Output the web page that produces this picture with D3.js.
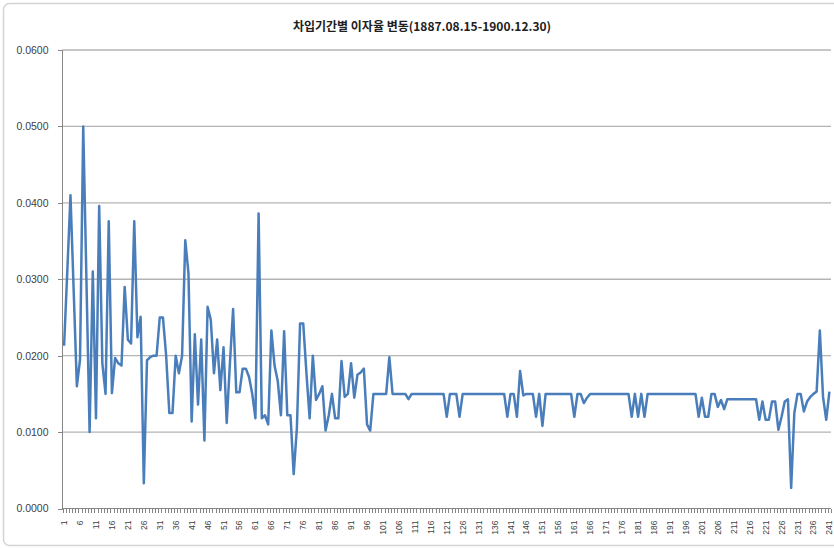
<!DOCTYPE html>
<meta charset="utf-8">
<style>

body {
  margin: 0;
  background: #fff;
}

.grid line {
  stroke: #b4b4b4;
  stroke-width: 1.3px;
}

.axis line, .axis path {
  stroke: #868686;
  stroke-width: 1px;
  shape-rendering: crispEdges;
}

.axis text {
  fill: #404040;
  font-family: "Liberation Sans", Arial, sans-serif;
}

.series {
  fill: none;
  stroke: #4a7ebb;
  stroke-width: 2.5px;
  stroke-linejoin: round;
}

</style>
<body>
<svg width="834" height="548"></svg>
<script src="https://d3js.org/d3.v7.min.js"></script>
<script>

var title = "차입기간별 이자율 변동(1887.08.15-1900.12.30)";

// interest rate for each period 1..241
var rates = [
  0.0213, 0.031, 0.041, 0.0286, 0.016, 0.0195, 0.050, 0.030, 0.010, 0.031,
  0.0118, 0.0396, 0.019, 0.015, 0.0376, 0.0151, 0.0197, 0.019, 0.0187, 0.029,
  0.0221, 0.0216, 0.0376, 0.0224, 0.0251, 0.0033, 0.0194, 0.0198, 0.020, 0.020,
  0.025, 0.025, 0.020, 0.0125, 0.0125, 0.020, 0.0177, 0.020, 0.0351, 0.0308,
  0.0114, 0.0228, 0.0136, 0.0221, 0.0089, 0.0264, 0.0247, 0.0177, 0.0221, 0.0155,
  0.0211, 0.0112, 0.019, 0.0261, 0.0152, 0.0152, 0.0183, 0.0183, 0.0172, 0.015,
  0.0118, 0.0386, 0.0118, 0.0122, 0.011, 0.0233, 0.0187, 0.0167, 0.0122, 0.0232,
  0.0122, 0.0122, 0.0045, 0.0105, 0.0242, 0.0242, 0.0177, 0.0118, 0.020, 0.0142,
  0.015, 0.016, 0.0102, 0.0122, 0.015, 0.0118, 0.0118, 0.0193, 0.0146, 0.015,
  0.019, 0.0145, 0.0175, 0.0178, 0.0183, 0.011, 0.0102, 0.015, 0.015, 0.015,
  0.015, 0.015, 0.0198, 0.015, 0.015, 0.015, 0.015, 0.015, 0.0143, 0.015,
  0.015, 0.015, 0.015, 0.015, 0.015, 0.015, 0.015, 0.015, 0.015, 0.015,
  0.012, 0.015, 0.015, 0.015, 0.012, 0.015, 0.015, 0.015, 0.015, 0.015,
  0.015, 0.015, 0.015, 0.015, 0.015, 0.015, 0.015, 0.015, 0.015, 0.012,
  0.015, 0.015, 0.012, 0.018, 0.0148, 0.015, 0.015, 0.015, 0.012, 0.015,
  0.0108, 0.015, 0.015, 0.015, 0.015, 0.015, 0.015, 0.015, 0.015, 0.015,
  0.012, 0.015, 0.015, 0.0138, 0.0145, 0.015, 0.015, 0.015, 0.015, 0.015,
  0.015, 0.015, 0.015, 0.015, 0.015, 0.015, 0.015, 0.015, 0.012, 0.015,
  0.012, 0.015, 0.012, 0.015, 0.015, 0.015, 0.015, 0.015, 0.015, 0.015,
  0.015, 0.015, 0.015, 0.015, 0.015, 0.015, 0.015, 0.015, 0.015, 0.012,
  0.0145, 0.012, 0.012, 0.015, 0.015, 0.0133, 0.0142, 0.013, 0.0143, 0.0143,
  0.0143, 0.0143, 0.0143, 0.0143, 0.0143, 0.0143, 0.0143, 0.0143, 0.0116, 0.014,
  0.0116, 0.0116, 0.014, 0.014, 0.0103, 0.012, 0.014, 0.0143, 0.0027, 0.0125,
  0.015, 0.015, 0.0127, 0.014, 0.0146, 0.015, 0.0153, 0.0233, 0.0146, 0.0116,
  0.0153
];

var categories = rates.map(function(d, i) { return i + 1; });
var tickLabels = categories.filter(function(c) { return (c - 1) % 5 === 0; });
var yTicks = [0, 0.01, 0.02, 0.03, 0.04, 0.05, 0.06];

var plotLeft = 62.5, plotRight = 831, plotTop = 50, plotBottom = 508.5;

var svg = d3.select("svg");

// chart frame
svg.append("rect")
    .attr("x", 3.5).attr("y", 3.5)
    .attr("width", 845).attr("height", 542)
    .attr("rx", 6)
    .attr("fill", "#fff")
    .attr("stroke", "#d4d4d4")
    .attr("stroke-width", 1.5);

var x = d3.scaleBand().domain(categories).range([plotLeft, plotRight]);
var y = d3.scaleLinear().domain([0, 0.06]).range([plotBottom, plotTop]);

// gridlines
svg.append("g").attr("class", "grid")
  .selectAll("line")
  .data(yTicks.slice(1))
  .enter().append("line")
    .attr("x1", plotLeft).attr("x2", plotRight)
    .attr("y1", function(d) { return y(d); })
    .attr("y2", function(d) { return y(d); });

// y axis
var yAxis = svg.append("g").attr("class", "axis")
    .attr("transform", "translate(" + plotLeft + ",0)")
    .call(d3.axisLeft(y).tickValues(yTicks).tickSize(5).tickPadding(9)
      .tickFormat(d3.format(".4f")));
yAxis.select(".domain").attr("d", "M0," + plotTop + "V" + plotBottom);
yAxis.selectAll("text").style("font-size", "10.5px");

// x axis: small ticks at every category boundary
var xAxis = svg.append("g").attr("class", "axis");
xAxis.append("line")
    .attr("x1", plotLeft).attr("x2", plotRight)
    .attr("y1", plotBottom).attr("y2", plotBottom);
xAxis.selectAll(".tick")
  .data(categories.concat([categories.length + 1]))
  .enter().append("line")
    .attr("x1", function(d, i) { return Math.round(plotLeft + i * x.bandwidth()) + 0.5; })
    .attr("x2", function(d, i) { return Math.round(plotLeft + i * x.bandwidth()) + 0.5; })
    .attr("y1", plotBottom).attr("y2", plotBottom + 4);

xAxis.selectAll(".lbl")
  .data(tickLabels)
  .enter().append("text")
    .attr("transform", function(d) {
      return "translate(" + (x(d) + x.bandwidth() / 2 + 3) + "," + (plotBottom + 12) + ") rotate(-90)";
    })
    .attr("text-anchor", "end")
    .style("font-size", "8.5px")
    .text(function(d) { return d; });

// series line
var line = d3.line()
    .x(function(d, i) { return x(categories[i]) + x.bandwidth() / 2; })
    .y(function(d) { return y(d); });

svg.append("path")
    .datum(rates)
    .attr("class", "series")
    .attr("d", line);

// title
svg.append("text")
    .attr("x", 422).attr("y", 31)
    .attr("text-anchor", "middle")
    .style("font-family", "'Noto Sans CJK KR', sans-serif")
    .style("font-weight", "bold")
    .style("font-size", "12px")
    .style("fill", "#202020")
    .text(title);

</script>
